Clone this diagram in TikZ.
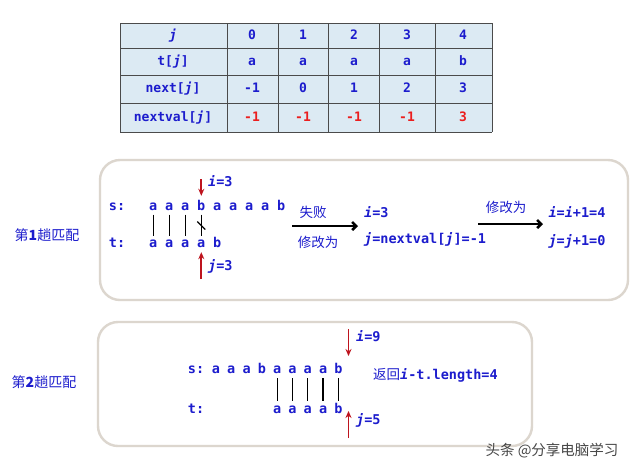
\documentclass[tikz,border=0pt]{standalone}
\usepackage{fontspec}
\setmonofont{DejaVu Sans Mono}
\newfontfamily\cjk{Noto Sans CJK SC}
\usetikzlibrary{arrows.meta,positioning,calc}
\definecolor{textblau}{RGB}{28,28,205}
\definecolor{textrot}{RGB}{235,30,30}
\definecolor{pfeilrot}{RGB}{190,20,30}
\definecolor{tabhg}{RGB}{220,234,243}
\definecolor{tablinie}{RGB}{75,75,75}
\definecolor{rahmen}{RGB}{220,214,206}
\tikzset{
  tabtext/.style={font=\ttfamily\bfseries\fontsize{13}{15}\selectfont, text=textblau, inner sep=1pt, text height=8pt, text depth=2pt},
  buchst/.style={font=\ttfamily\bfseries\fontsize{13.5}{15}\selectfont, text=textblau, inner sep=1pt, text height=7pt, text depth=0pt},
  formel/.style={buchst, text height=9pt, text depth=2pt},
  hanzi/.style={font=\cjk\fontsize{13.5}{16}\selectfont, text=textblau, inner sep=1pt},
  linie/.style={draw=tablinie, line width=0.9pt},
  kasten/.style={draw=rahmen, line width=2.4pt, rounded corners=20pt},
  strich/.style={draw=black, line width=1.3pt, shorten <=3pt, shorten >=3pt},
  rotpfeil/.style={draw=pfeilrot, line width=1.8pt, -{Stealth[length=7pt,width=6pt]}},
  schwarzpfeil/.style={draw=black, line width=2.6pt, -{Straight Barb[length=4pt,width=8pt]}}
}
\newcommand{\kursiv}[1]{\textit{#1}}

\begin{document}
\begin{tikzpicture}[x=1pt,y=-1pt]
\path[fill=white,use as bounding box] (0,0) rectangle (640,475);

% Tabelle
\fill[tabhg] (120,23) rectangle (492,132);
\foreach \x in {120,227,278,328,379,435,492} \draw[linie] (\x,23) -- (\x,132);
\foreach \y in {23,48,75,103,132} \draw[linie] (120,\y) -- (492,\y);
\node[tabtext] (kopf-j) at (173,36) {\kursiv{j}};
\node[tabtext] (kopf-t) at (173,62) {t[\kursiv{j}]};
\node[tabtext] (kopf-next) at (173,89) {next[\kursiv{j}]};
\node[tabtext] (kopf-nextval) at (173,118) {nextval[\kursiv{j}]};
\foreach \x/\j/\t/\n/\nv [count=\k from 0] in {252/0/a/-1/-1, 303/1/a/0/-1, 354/2/a/1/-1, 407/3/a/2/-1, 463/4/b/3/3}{
  \node[tabtext] (j-\k) at (\x,36) {\j};
  \node[tabtext] (t-\k) at (\x,62) {\t};
  \node[tabtext] (n-\k) at (\x,89) {\n};
  \node[tabtext, text=textrot] (nv-\k) at (\x,118) {\nv};
}

% 1. Durchgang
\draw[kasten] (100,160) rectangle (628,300);
\node[hanzi, font=\cjk\fontsize{14}{16}\selectfont] (lauf1) at (47,235) {第\textbf{1}趟匹配};
\node[buchst] (s-lbl1) at (117,207) {s:};
\node[buchst] (t-lbl1) at (117,244) {t:};
\foreach \c [count=\k] in {a,a,a,b,a,a,a,a,b}
  \node[buchst] (sa\k) at (137.3+16*\k,207) {\c};
\foreach \c [count=\k] in {a,a,a,a,b}
  \node[buchst] (ta\k) at (137.3+16*\k,244) {\c};
\foreach \k in {1,...,4} \draw[strich] (sa\k.south) -- (ta\k.north);
\coordinate (kreuz) at ($(sa4.south)!0.5!(ta4.north)$);
\draw[black, line width=1.2pt] ($(kreuz)+(-4,-4)$) -- ($(kreuz)+(4,4)$);
\coordinate (i1) at (201.3,179);
\coordinate (j1) at (201.3,279);
\draw[rotpfeil, shorten >=6.5pt] (i1) -- (i1 |- sa4.north);
\draw[rotpfeil, shorten >=3.5pt] (j1) -- (j1 |- ta4.south);
\node[formel, anchor=west] (i-wert1) at (207,183) {\kursiv{i}=3};
\node[formel, anchor=west] (j-wert1) at (207,267) {\kursiv{j}=3};

\node[hanzi] (fehl) at (313,212) {失败};
\node[hanzi] (aend1) at (318,242) {修改为};
\coordinate (p1a) at (292,226);
\coordinate (p1b) at (358,226);
\draw[schwarzpfeil] (p1a) -- (p1b);
\node[formel, anchor=west] (i-neu) at (363,214) {\kursiv{i}=3};
\node[formel, anchor=west] (j-neu) at (363,240) {\kursiv{j}=nextval[\kursiv{j}]=-1};

\node[hanzi] (aend2) at (506,207) {修改为};
\coordinate (p2a) at (478,224);
\coordinate (p2b) at (543,224);
\draw[schwarzpfeil] (p2a) -- (p2b);
\node[formel] (i-inc) at (577,214) {\kursiv{i}=\kursiv{i}+1=4};
\node[formel] (j-inc) at (577,242) {\kursiv{j}=\kursiv{j}+1=0};

% 2. Durchgang
\draw[kasten] (98,322) rectangle (532,446);
\node[hanzi, font=\cjk\fontsize{14}{16}\selectfont] (lauf2) at (44,382) {第\textbf{2}趟匹配};
\node[buchst] (s-lbl2) at (196,370) {s:};
\node[buchst] (t-lbl2) at (196,410) {t:};
\foreach \c [count=\k] in {a,a,a,b,a,a,a,a,b}
  \node[buchst] (sb\k) at (200.7+15.3*\k,370) {\c};
\foreach \c [count=\k from 5] in {a,a,a,a,b}
  \node[buchst] (tb\k) at (200.7+15.3*\k,410) {\c};
\foreach \k in {5,...,9} \draw[strich, shorten <=3.5pt, shorten >=4pt] (sb\k.south) -- (tb\k.north);
\coordinate (i2a) at (348.5,329);
\coordinate (i2b) at (348.5,356);
\coordinate (j2a) at (348.5,438);
\coordinate (j2b) at (348.5,411);
\draw[rotpfeil] (i2a) -- (i2b);
\draw[rotpfeil] (j2a) -- (j2b);
\node[formel, anchor=west] (i-wert2) at (355,338) {\kursiv{i}=9};
\node[formel, anchor=west] (j-wert2) at (355,421) {\kursiv{j}=5};
\node[formel, anchor=west] (rueck) at (372,376) {{\cjk\mdseries\fontsize{13.5}{16}\selectfont 返回}\kursiv{i}-t.length=4};

% Wasserzeichen
\node[font=\cjk\fontsize{14.5}{16}\selectfont, text=black!72] (marke) at (552,451) {头条 @分享电脑学习};
\end{tikzpicture}
\end{document}
